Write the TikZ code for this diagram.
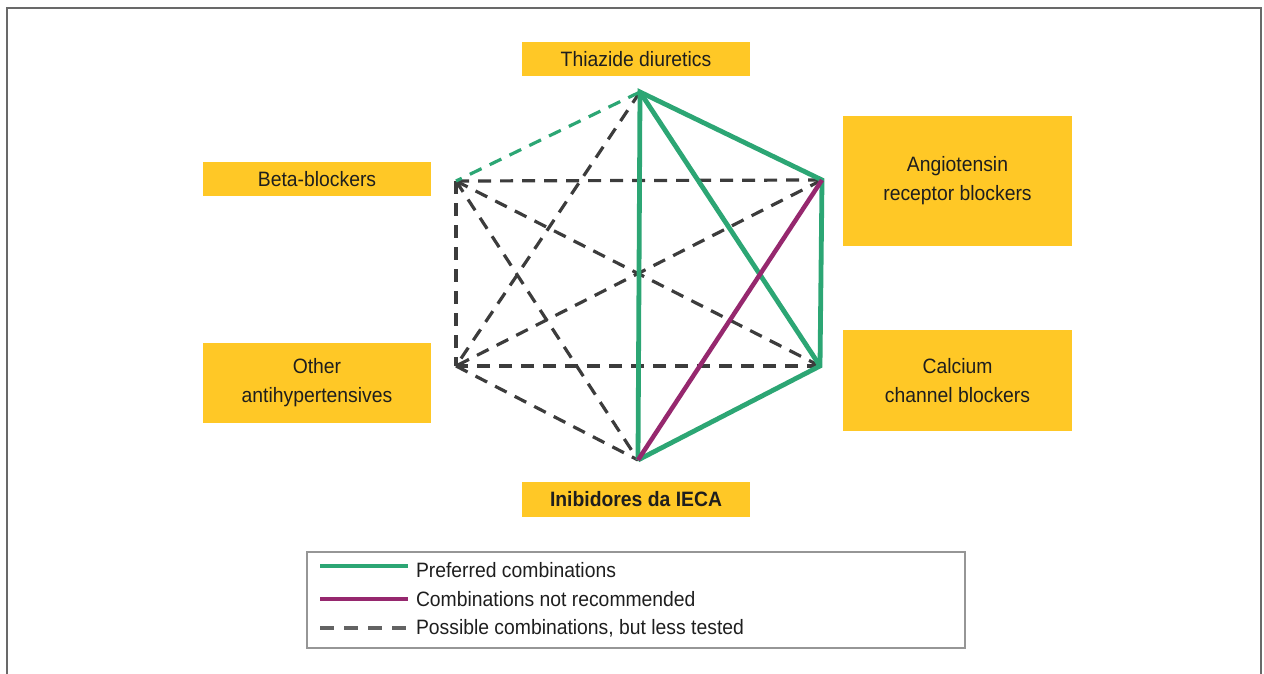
\documentclass[tikz,border=0pt]{standalone}
\usepackage{fontspec}
\setmainfont[FakeStretch=0.93]{Liberation Sans}
\begin{document}
\begin{tikzpicture}[x=1pt,y=-1pt,
  every node/.style={inner sep=0pt, outer sep=0pt},
  label/.style={fill=boxyellow, text=txtgray, font=\fontsize{20.8}{29}\selectfont, align=center},
  pref/.style={draw=prefgreen, line width=4.8pt},
  notrec/.style={draw=notrecmag, line width=4.5pt},
  poss/.style={draw=dashgray, line width=3.2pt, dash pattern=on 13pt off 9pt},
  possgreen/.style={draw=prefgreen, line width=3.2pt, dash pattern=on 13pt off 9pt},
  legtext/.style={anchor=west, text=txtgray, font=\fontsize{20.8}{22}\selectfont}
]
\definecolor{boxyellow}{RGB}{255,200,38}
\definecolor{txtgray}{RGB}{30,30,30}
\definecolor{prefgreen}{RGB}{44,166,116}
\definecolor{notrecmag}{RGB}{150,40,110}
\definecolor{dashgray}{RGB}{60,60,60}
\definecolor{framegray}{RGB}{105,105,105}
\definecolor{leggray}{RGB}{150,150,150}

\useasboundingbox (0,0) rectangle (1264,674);

% outer frame (open at bottom)
\draw[framegray, line width=2pt] (7,680) -- (7,8) -- (1261,8) -- (1261,680);

% boxes
\node[label, minimum width=228pt, minimum height=34pt] (thz) at (636,59) {Thiazide diuretics};
\node[label, minimum width=228pt, minimum height=34pt] (bb) at (317,179) {Beta-blockers};
\node[label, minimum width=229pt, minimum height=130pt] (arbbox) at (957.5,181) {Angiotensin\\receptor blockers};
\node[label, minimum width=228pt, minimum height=80pt] (othbox) at (317,383) {Other\\antihypertensives};
\node[label, minimum width=229pt, minimum height=101pt] (ccbbox) at (957.5,380.5) {Calcium\\channel blockers};
\node[label, minimum width=228pt, minimum height=35pt, font=\fontsize{20.8}{22}\selectfont\bfseries] (ieca) at (636,499.5) {Inibidores da IECA};

% vertices
\coordinate (T) at (640,92);
\coordinate (A) at (822,180);
\coordinate (C) at (820,366);
\coordinate (I) at (638,460);
\coordinate (O) at (456,366);
\coordinate (B) at (456,181);

% dashed combinations
\draw[poss] (B) -- (A);
\draw[poss] (B) -- (C);
\draw[poss] (B) -- (I);
\draw[poss] (B) -- (O);
\draw[poss] (T) -- (O);
\draw[poss] (A) -- (O);
\draw[poss] (C) -- (O);
\draw[poss] (O) -- (I);
\draw[possgreen] (T) -- (B);

% preferred
\draw[pref, line join=miter] (I) -- (T) -- (A) -- (C) -- (I);
\draw[pref] (T) -- (C);

% not recommended
\draw[notrec] (A) -- (I);

% legend
\draw[leggray, line width=2.5pt] (307,552) rectangle (965,648);
\coordinate (l1a) at (320,566); \coordinate (l1b) at (408,566);
\coordinate (l2a) at (320,599); \coordinate (l2b) at (408,599);
\coordinate (l3a) at (320,628); \coordinate (l3b) at (408,628);
\draw[pref] (l1a) -- (l1b);
\draw[notrec] (l2a) -- (l2b);
\draw[draw=dashgray!80, line width=3.2pt, dash pattern=on 14pt off 10pt] (l3a) -- (l3b);
\node[legtext] (t1) at (416,570) {Preferred combinations};
\node[legtext] (t2) at (416,599) {Combinations not recommended};
\node[legtext] (t3) at (416,628) {Possible combinations, but less tested};
\end{tikzpicture}
\end{document}
